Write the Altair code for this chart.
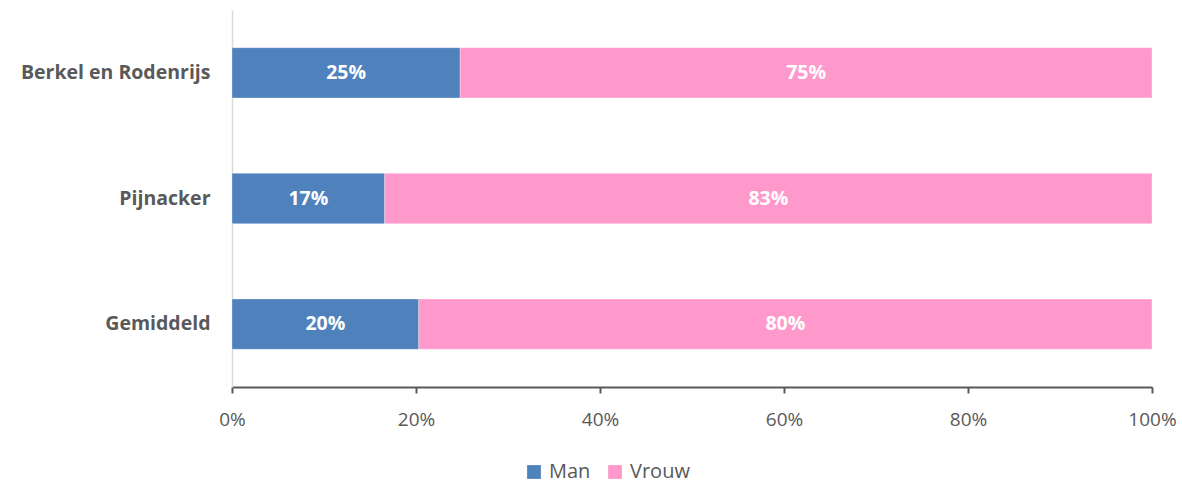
import altair as alt
import pandas as pd

categories = ["Berkel en Rodenrijs", "Pijnacker", "Gemiddeld"]
man = [24.8, 16.6, 20.3]
vrouw = [75.2, 83.4, 79.7]
series = ["Man", "Vrouw"]
colors = ["#4F81BD", "#FF99CC"]

rows = []
for c, m, v in zip(categories, man, vrouw):
    rows.append({"cat": c, "serie": "Man", "val": m / 100, "ord": 0})
    rows.append({"cat": c, "serie": "Vrouw", "val": v / 100, "ord": 1})
df = pd.DataFrame(rows)

FONT = "Open Sans"
GRAY = "#595959"

base = alt.Chart(df).transform_stack(
    stack="val", groupby=["cat"], as_=["x0", "x1"], sort=[alt.SortField("ord")]
).transform_calculate(mid="(datum.x0 + datum.x1) / 2")

y_enc = alt.Y(
    "cat:N",
    sort=categories,
    title=None,
    scale=alt.Scale(paddingInner=0.6, paddingOuter=0.3),
    axis=alt.Axis(
        labelFont=FONT, labelFontSize=19.5, labelFontWeight="bold", labelColor=GRAY,
        domainColor="#D9D9D9", domainWidth=1.5, ticks=False, labelPadding=22,
        labelLimit=400,
    ),
)

bars = base.mark_bar(stroke="white", strokeWidth=0.5, strokeOpacity=0.6).encode(
    x=alt.X(
        "x0:Q",
        scale=alt.Scale(domain=[0, 1], nice=False),
        title=None,
        axis=alt.Axis(
            format=".0%", values=[0, 0.2, 0.4, 0.6, 0.8, 1.0], grid=False,
            labelFont=FONT, labelFontSize=19, labelColor=GRAY, labelFlush=False,
            domainColor=GRAY, domainWidth=2, tickColor=GRAY, tickSize=6, tickWidth=2,
            labelPadding=17,
        ),
    ),
    x2="x1:Q",
    y=y_enc,
    color=alt.Color(
        "serie:N",
        scale=alt.Scale(domain=series, range=colors),
        legend=alt.Legend(
            title=None, orient="none", legendX=292, legendY=452, direction="horizontal",
            symbolType="square", symbolSize=190, symbolStrokeWidth=0,
            labelFont=FONT, labelFontSize=20, labelColor=GRAY, columnPadding=14,
            labelOffset=5,
        ),
    ),
)

labels = base.mark_text(font=FONT, fontSize=19.5, fontWeight="bold", color="white").encode(
    x="mid:Q",
    y=alt.Y("cat:N", sort=categories),
    text=alt.Text("val:Q", format=".0%"),
)

chart = (bars + labels).properties(
    width=920, height=377,
    autosize=alt.AutoSizeParams(type="none"),
    padding={"left": 232, "top": 10, "right": 30, "bottom": 97},
).configure_view(stroke=None)

chart.save("out.html", embed_options={"renderer": "svg", "actions": False})
